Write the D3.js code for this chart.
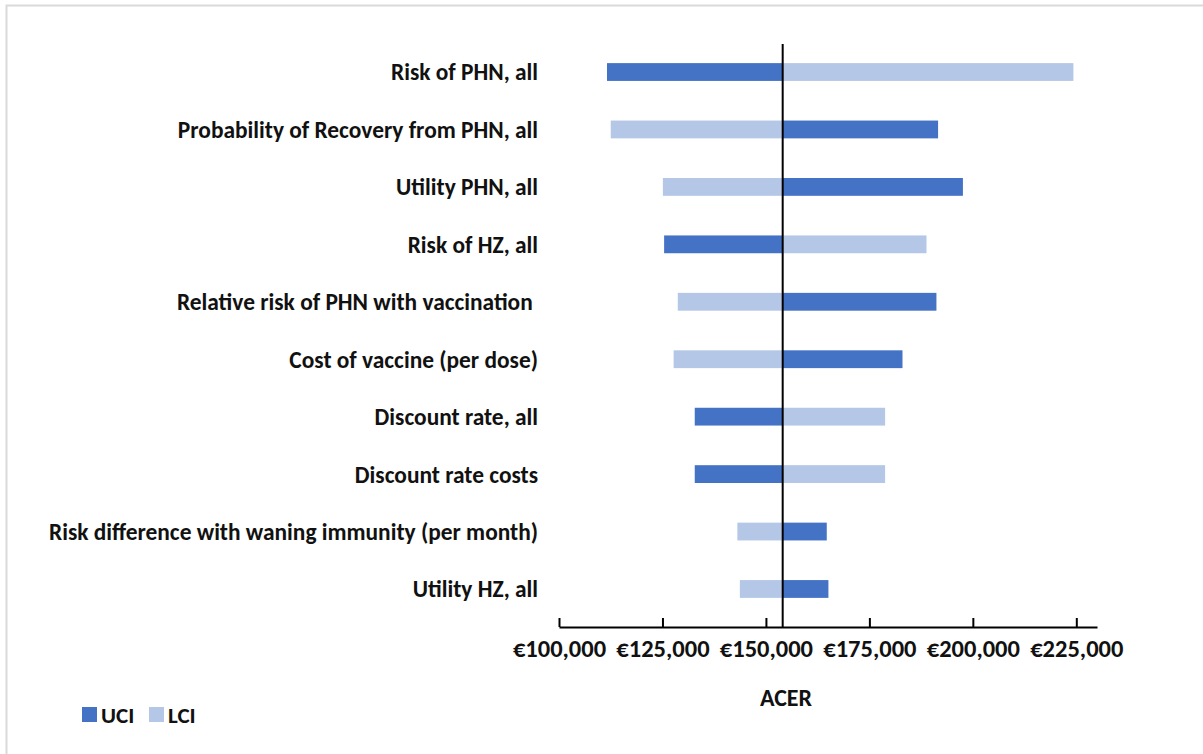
<!DOCTYPE html>
<html>
<head>
<meta charset="utf-8">
<script src="https://cdn.jsdelivr.net/npm/d3@7"></script>
<style>
  html, body { margin: 0; padding: 0; background: #fff; }
  svg text { font-family: Calibri, Lato, sans-serif; font-weight: bold; fill: #111; white-space: pre; }
</style>
</head>
<body>
<div id="chart"></div>
<script>
// Tornado chart data (ACER, EUR)
const categories = [
    "Risk of PHN, all",
    "Probability of Recovery from PHN, all",
    "Utility PHN, all",
    "Risk of HZ, all",
    "Relative risk of PHN with vaccination ",
    "Cost of vaccine (per dose)",
    "Discount rate, all",
    "Discount rate costs",
    "Risk difference with waning immunity (per month)",
    "Utility HZ, all"
];
const uciValues = [111600, 191600, 197600, 125400, 191200, 183000, 132800, 132800, 164700, 165100];
const lciValues = [224300, 112500, 125100, 188800, 128700, 127700, 178800, 178800, 143100, 143700];
const baseValue = 154050;
const tickValues = [100000, 125000, 150000, 175000, 200000, 225000];
const seriesNames = ["UCI", "LCI"];

const drawTornado = () => {
    const width = 1203;
    const height = 754;

    // Colors
    const uciColor = '#4472C4';
    const lciColor = '#B4C7E7';
    const lineColor = '#000000';

    const svg = d3.select("#chart")
        .append("svg")
        .attr("width", width)
        .attr("height", height);

    // chart frame (only top/left edge visible in the crop)
    svg.append("rect")
        .attr("x", 6.5).attr("y", 5.5)
        .attr("width", 1300).attr("height", 900)
        .attr("fill", "none")
        .attr("stroke", "#d9d9d9")
        .attr("stroke-width", 2);

    const x = d3.scaleLinear().domain([100000, 230000]).range([559, 1097]);
    const y = d3.scaleBand()
        .domain(categories)
        .range([43.3, 617.7])
        .paddingInner(0.69)
        .paddingOuter(0.345);

    const axisY = 627;
    const bh = y.bandwidth();

    // bars: LCI first, then UCI
    const rows = categories.map((c, i) => ({cat: c, uci: uciValues[i], lci: lciValues[i]}));

    const drawSeries = (key, color) => {
        svg.append("g").selectAll("rect")
            .data(rows)
            .enter()
            .append("rect")
            .attr("x", d => Math.min(x(baseValue), x(d[key])))
            .attr("y", d => y(d.cat))
            .attr("width", d => Math.abs(x(d[key]) - x(baseValue)))
            .attr("height", bh)
            .attr("fill", color);
    };
    drawSeries("lci", lciColor);
    drawSeries("uci", uciColor);

    // category labels
    svg.append("g").selectAll("text")
        .data(categories)
        .enter()
        .append("text")
        .attr("x", 538)
        .attr("y", d => y(d) + bh / 2)
        .attr("dy", "0.36em")
        .attr("text-anchor", "end")
        .style("font-size", "23.4px")
        .text(d => d);

    // x axis
    const fmt = d => "€" + d3.format(",")(d);
    const axis = svg.append("g")
        .attr("transform", `translate(0,${axisY})`)
        .call(d3.axisBottom(x).tickValues(tickValues).tickSizeInner(-9).tickSizeOuter(0).tickFormat(fmt));
    axis.select(".domain").attr("stroke", lineColor).attr("stroke-width", 2.2);
    axis.selectAll(".tick line").attr("stroke", lineColor).attr("stroke-width", 2);
    axis.selectAll(".tick text")
        .attr("y", 21)
        .attr("dy", "0.36em")
        .style("font-size", "24.5px")
        .style("font-family", "Calibri, Lato, sans-serif")
        .attr("fill", "#111");

    // base line
    svg.append("line")
        .attr("x1", x(baseValue)).attr("x2", x(baseValue))
        .attr("y1", 44).attr("y2", axisY)
        .attr("stroke", lineColor)
        .attr("stroke-width", 2);

    // axis title
    svg.append("text")
        .attr("x", 786)
        .attr("y", 697)
        .attr("dy", "0.36em")
        .attr("text-anchor", "middle")
        .style("font-size", "24px")
        .text("ACER");

    // legend
    const legend = svg.append("g");
    const legendItems = [
        {name: seriesNames[0], color: uciColor, x: 82},
        {name: seriesNames[1], color: lciColor, x: 149}
    ];
    legendItems.forEach(item => {
        legend.append("rect")
            .attr("x", item.x).attr("y", 707)
            .attr("width", 15).attr("height", 15)
            .attr("fill", item.color);
        legend.append("text")
            .attr("x", item.x + 19)
            .attr("y", 714.5)
            .attr("dy", "0.36em")
            .style("font-size", "23px")
            .text(item.name);
    });
}
drawTornado();
</script>
</body>
</html>
